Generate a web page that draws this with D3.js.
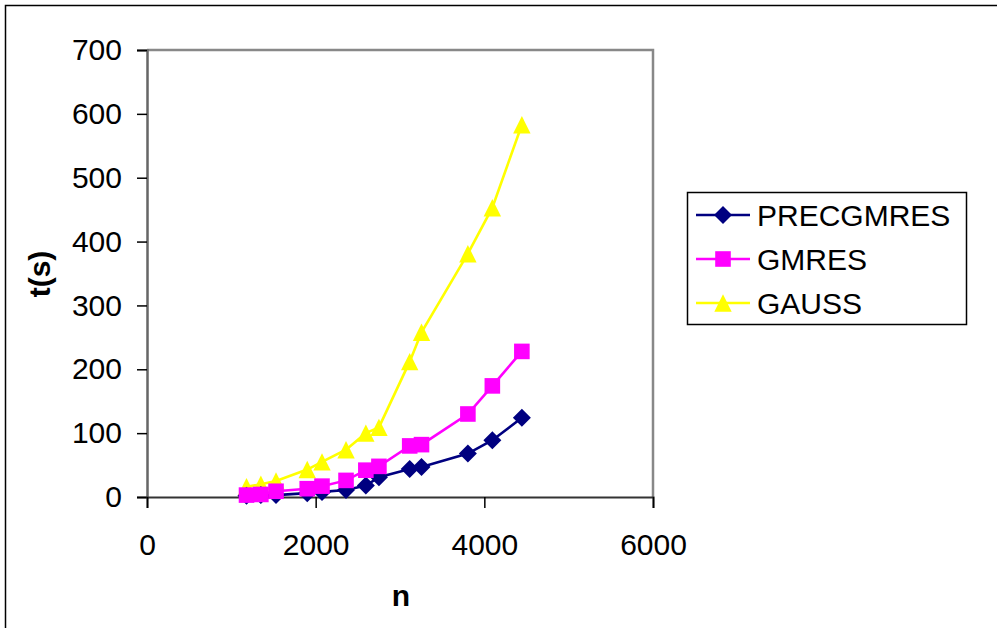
<!DOCTYPE html>
<html>
<head>
<meta charset="utf-8">
<script src="https://cdn.jsdelivr.net/npm/d3@7/dist/d3.min.js"></script>
<style>
  body { margin: 0; background: #fff; }
  svg { display: block; font-family: Arial, "Liberation Sans", sans-serif; }
</style>
</head>
<body>
<svg id="chart" width="997" height="628"></svg>
<script>
// n values (matrix size) shared by all three series
var nValues = [1180, 1350, 1530, 1900, 2075, 2360, 2595, 2750, 3115, 3255, 3805, 4095, 4445];

var precgmres = [2, 3, 3, 6, 8, 11, 18, 31, 44, 47, 68, 89, 124];
var gmres     = [3, 4, 9, 13, 17, 26, 42, 48, 80, 82, 130, 174, 228];
var gauss     = [16, 20, 25, 43, 55, 74, 100, 109, 212, 258, 381, 453, 583];

var seriesNames  = ['PRECGMRES', 'GMRES', 'GAUSS'];
var seriesColors = ['#000080', '#ff00ff', '#ffff00'];

var xTicks = [0, 2000, 4000, 6000];
var yTicks = [0, 100, 200, 300, 400, 500, 600, 700];

// Excel-style marker shapes, r = half size in px
var shapes = {
    diamond: function(r) { return 'M0,' + (-r) + 'L' + r + ',0L0,' + r + 'L' + (-r) + ',0Z'; },
    square: function(r) { return 'M' + (-r) + ',' + (-r) + 'H' + r + 'V' + r + 'H' + (-r) + 'Z'; },
    triangle: function(r) { return 'M0,' + (-r) + 'L' + r + ',' + r + 'H' + (-r) + 'Z'; }
};
var seriesShapes = [shapes.diamond(9), shapes.square(7.8), shapes.triangle(8.7)];

var svg = d3.select('#chart');
var font = 'Arial, "Liberation Sans", sans-serif';

var plot = { left: 147, right: 653, top: 50, bottom: 497 };

var x = d3.scaleLinear().domain([0, 6000]).range([plot.left, plot.right]);
var y = d3.scaleLinear().domain([0, 700]).range([plot.bottom, plot.top]);

// outer chart border
svg.append('rect')
    .attr('x', 5.5).attr('y', 5.5)
    .attr('width', 1000).attr('height', 640)
    .attr('fill', 'none').attr('stroke', '#000').attr('stroke-width', 1.5);

// plot area frame (top + right grey)
svg.append('path')
    .attr('d', 'M' + plot.left + ',' + plot.top + 'H' + plot.right + 'V' + plot.bottom)
    .attr('fill', 'none').attr('stroke', '#888').attr('stroke-width', 2.5);

// y axis
var yAxis = d3.axisLeft(y).tickValues(yTicks).tickSize(10).tickPadding(15)
    .tickFormat(d3.format('d'));
var gy = svg.append('g').attr('transform', 'translate(' + plot.left + ',0)').call(yAxis);
gy.select('.domain').attr('stroke', '#666').attr('stroke-width', 2.5);
gy.selectAll('.tick line').attr('stroke', '#000').attr('stroke-width', 1.5);
gy.selectAll('.tick text').attr('font-size', 30).attr('fill', '#000')
    .attr('font-family', font);

// x axis
var xAxis = d3.axisBottom(x).tickValues(xTicks).tickSize(11).tickPadding(26)
    .tickFormat(d3.format('d'));
var gx = svg.append('g').attr('transform', 'translate(0,' + plot.bottom + ')').call(xAxis);
gx.select('.domain').attr('stroke', '#333').attr('stroke-width', 2);
gx.selectAll('.tick line').attr('stroke', '#000').attr('stroke-width', 1.5);
gx.selectAll('.tick text').attr('font-size', 30).attr('fill', '#000')
    .attr('font-family', font);

// axis titles
svg.append('text')
    .attr('x', 401).attr('y', 606)
    .attr('text-anchor', 'middle')
    .attr('font-size', 30).attr('font-weight', 'bold')
    .text('n');

svg.append('text')
    .attr('transform', 'translate(50,274) rotate(-90)')
    .attr('text-anchor', 'middle')
    .attr('font-size', 30).attr('font-weight', 'bold')
    .text('t(s)');

// series
var allSeries = [precgmres, gmres, gauss];
var line = d3.line()
    .x(function(d) { return x(d.n); })
    .y(function(d) { return y(d.t); });

// pink squares sit on top of the others in the reference
var drawOrder = [2, 0, 1];
drawOrder.forEach(function(si) {
    var vals = allSeries[si];
    var pts = vals.map(function(v, i) { return { n: nValues[i], t: v }; });
    var g = svg.append('g');
    g.append('path')
        .datum(pts)
        .attr('d', line)
        .attr('fill', 'none')
        .attr('stroke', seriesColors[si])
        .attr('stroke-width', 2.6);
    g.selectAll('path.marker')
        .data(pts)
        .enter().append('path')
        .attr('class', 'marker')
        .attr('transform', function(d) {
            return 'translate(' + x(d.n) + ',' + y(d.t) + ')';
        })
        .attr('d', seriesShapes[si])
        .attr('fill', seriesColors[si]);
});

// legend
var legend = svg.append('g').attr('transform', 'translate(687,192)');
legend.append('rect')
    .attr('x', 0.5).attr('y', 0.5)
    .attr('width', 279).attr('height', 132)
    .attr('fill', '#fff').attr('stroke', '#000').attr('stroke-width', 1.5);

var legendRows = [23, 67, 111];
seriesNames.forEach(function(name, si) {
    var row = legend.append('g').attr('transform', 'translate(0,' + legendRows[si] + ')');
    row.append('line')
        .attr('x1', 9).attr('x2', 63)
        .attr('stroke', seriesColors[si]).attr('stroke-width', 2.6);
    row.append('path')
        .attr('transform', 'translate(36,0)')
        .attr('d', seriesShapes[si])
        .attr('fill', seriesColors[si]);
    row.append('text')
        .attr('x', 70).attr('y', 11)
        .attr('font-size', 30)
        .attr('font-family', font)
        .text(name);
});
</script>
</body>
</html>
